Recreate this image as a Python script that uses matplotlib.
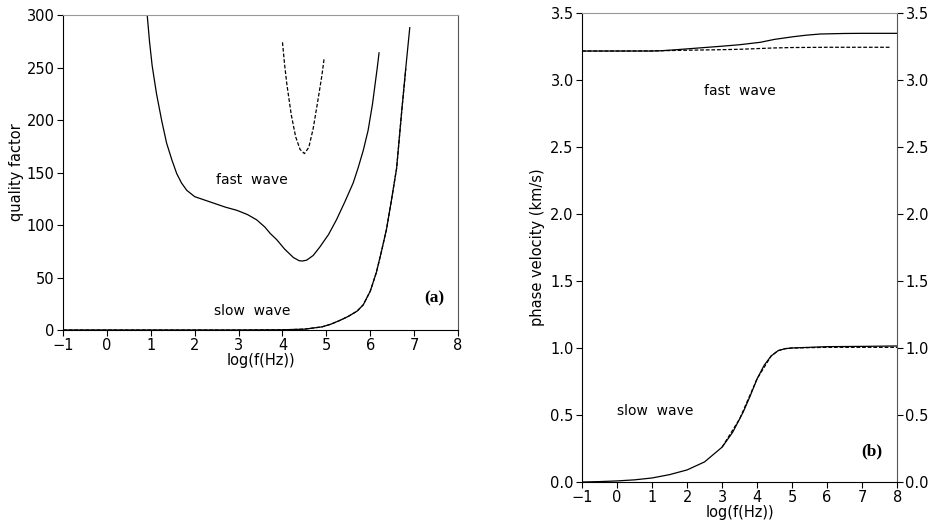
import numpy as np
import matplotlib
matplotlib.use("Agg")
import matplotlib.pyplot as plt

# ---- Panel (a): quality factor ----
qa_fast_solid_x = [0.92, 0.97, 1.03, 1.13, 1.25, 1.36, 1.48, 1.59, 1.7, 1.82, 2.0, 2.35, 2.7, 2.96, 3.2, 3.41, 3.6, 3.72, 3.87, 4.05, 4.25, 4.38, 4.45, 4.55, 4.7, 4.85, 5.05, 5.23, 5.42, 5.61, 5.72, 5.84, 5.95, 6.05, 6.16, 6.2]
qa_fast_solid_y = [299, 275, 252, 225, 199, 178, 162, 149, 140, 133, 127, 122, 117, 114, 110, 105, 98, 92, 86, 77, 69, 66, 65.7, 66.5, 71, 79, 91, 105, 122, 140, 154, 171, 190, 215, 250, 264]
qa_fast_dash_x = [4.0, 4.05, 4.1, 4.2, 4.3, 4.4, 4.5, 4.6, 4.7, 4.8, 4.9, 4.95]
qa_fast_dash_y = [274, 252, 234, 205, 184, 172, 168, 174, 192, 217, 243, 259]
qa_slow_solid_x = [-1.0, 0.0, 1.0, 2.0, 3.0, 4.0, 4.5, 4.9, 5.1, 5.3, 5.5, 5.7, 5.84, 6.0, 6.14, 6.25, 6.37, 6.48, 6.6, 6.72, 6.81, 6.9]
qa_slow_solid_y = [0, 0, 0, 0, 0, 0.2, 0.8, 3, 5.5, 9, 13, 18, 24, 37, 55, 74, 96, 123, 154, 210, 250, 288]
qa_slow_dash_x = [-1.0, 0.0, 1.0, 2.0, 3.0, 4.0, 4.5, 4.9, 5.1, 5.3, 5.5, 5.7, 5.84, 6.0, 6.14, 6.25, 6.37, 6.48, 6.6, 6.72, 6.81]
qa_slow_dash_y = [0, 0, 0, 0, 0, 0.2, 0.8, 3, 5.5, 9, 13, 18, 24, 37, 55, 74, 96, 123, 154, 210, 249]

# ---- Panel (b): phase velocity ----
vb_fast_solid_x = [-1.0, 0.0, 1.0, 1.25, 1.6, 2.0, 2.5, 3.0, 3.5, 4.09, 4.5, 5.04, 5.4, 5.8, 6.5, 7.0, 8.0]
vb_fast_solid_y = [3.216, 3.216, 3.216, 3.218, 3.224, 3.232, 3.242, 3.252, 3.263, 3.281, 3.303, 3.323, 3.334, 3.343, 3.347, 3.348, 3.348]
vb_fast_dash_x = [-1.0, 0.0, 1.0, 2.0, 3.0, 3.5, 4.0, 4.5, 5.0, 6.0, 7.0, 7.8]
vb_fast_dash_y = [3.216, 3.216, 3.217, 3.222, 3.226, 3.229, 3.234, 3.239, 3.242, 3.244, 3.244, 3.244]
vb_slow_solid_x = [-1.0, -0.5, 0.0, 0.5, 1.0, 1.5, 2.0, 2.5, 3.0, 3.3, 3.6, 3.8, 4.0, 4.2, 4.4, 4.6, 4.8, 5.0, 6.0, 7.0, 8.0]
vb_slow_solid_y = [0.0, 0.003, 0.008, 0.016, 0.03, 0.055, 0.09, 0.15, 0.26, 0.37, 0.52, 0.64, 0.77, 0.87, 0.94, 0.98, 0.995, 1.0, 1.01, 1.012, 1.015]
vb_slow_dash_x = [3.0, 3.5, 4.0, 4.4, 4.6, 4.8, 5.0, 6.0, 7.0, 8.0]
vb_slow_dash_y = [0.26, 0.47, 0.77, 0.94, 0.98, 0.995, 1.0, 1.005, 1.005, 1.005]

xticks = [-1, 0, 1, 2, 3, 4, 5, 6, 7, 8]
qa_yticks = [0, 50, 100, 150, 200, 250, 300]
vb_yticks = [0.0, 0.5, 1.0, 1.5, 2.0, 2.5, 3.0, 3.5]

plt.rcParams['font.family'] = ['DejaVu Sans']
fig = plt.figure(figsize=(9.35, 5.27), dpi=100)

axa = fig.add_axes([0.0674, 0.3738, 0.4225, 0.5977])
axb = fig.add_axes([0.6225, 0.0854, 0.337, 0.890])

lw = 0.9
dash = (0, (3, 1.5))
for ax in (axa, axb):
    ax.tick_params(direction='out', length=4, width=0.8, labelsize=10.5, pad=2)
    for s in ax.spines.values():
        s.set_linewidth(0.8)
    ax.spines['top'].set_color('#999999')
    ax.spines['right'].set_color('#555555')
    ax.set_xticks(xticks)
    ax.set_xticklabels([('\u2212%d' % -t) if t < 0 else str(t) for t in xticks])
    ax.set_xlim(-1, 8)

# Panel (a)
axa.plot(qa_fast_solid_x, qa_fast_solid_y, color='black', lw=lw)
axa.plot(qa_fast_dash_x, qa_fast_dash_y, color='black', lw=lw, ls=dash)
axa.plot(qa_slow_solid_x, qa_slow_solid_y, color='black', lw=lw)
axa.plot(qa_slow_dash_x, qa_slow_dash_y, color='black', lw=lw, ls=dash)
axa.set_ylim(0, 300)
axa.set_yticks(qa_yticks)
axa.set_xlabel('log(f(Hz))', fontsize=10.5, labelpad=0)
axa.set_ylabel('quality factor', fontsize=10.5, labelpad=2)
axa.text(3.3, 143, 'fast  wave', fontsize=10, ha='center', va='center')
axa.text(3.3, 18, 'slow  wave', fontsize=10, ha='center', va='center')
axa.text(7.47, 30, '(a)', fontsize=12.5, ha='center', va='center', family='Liberation Serif', weight='bold')

# Panel (b)
axb.plot(vb_fast_solid_x, vb_fast_solid_y, color='black', lw=lw)
axb.plot(vb_fast_dash_x, vb_fast_dash_y, color='black', lw=lw, ls=dash)
axb.plot(vb_slow_solid_x, vb_slow_solid_y, color='black', lw=lw)
axb.plot(vb_slow_dash_x, vb_slow_dash_y, color='black', lw=lw, ls=dash)
axb.set_ylim(0, 3.5)
axb.set_yticks(vb_yticks)
axb.set_yticklabels(['%.1f' % v for v in vb_yticks])
axb.tick_params(axis='y', right=True, labelright=True)
axb.set_xlabel('log(f(Hz))', fontsize=10.5, labelpad=0)
axb.set_ylabel('phase velocity (km/s)', fontsize=10.5, labelpad=4)
axb.text(3.5, 2.92, 'fast  wave', fontsize=10, ha='center', va='center')
axb.text(1.1, 0.53, 'slow  wave', fontsize=10, ha='center', va='center')
axb.text(7.28, 0.23, '(b)', fontsize=12.5, ha='center', va='center', family='Liberation Serif', weight='bold')

fig.savefig('out.png', dpi=100)
